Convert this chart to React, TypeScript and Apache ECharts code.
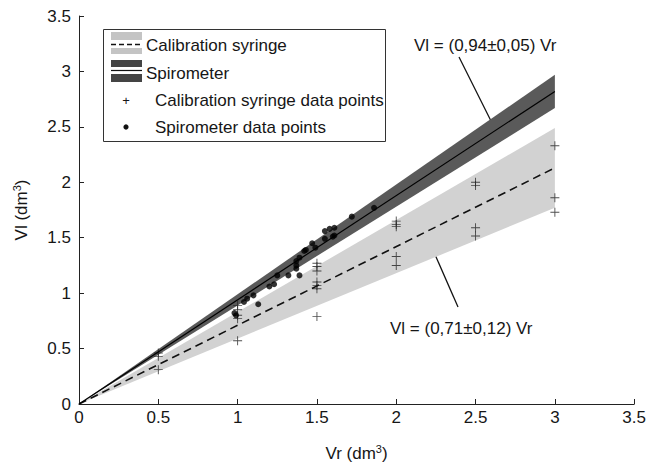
import React, { useEffect, useRef } from "react";
import * as echarts from "echarts";

// Fitted lines / bands (endpoints)
const bandX = [0, 3];
const calLower = [0, 1.77];
const calUpper = [0, 2.49];
const calFit = [0, 2.13];
const spiroLower = [0, 2.67];
const spiroUpper = [0, 2.97];
const spiroFit = [0, 2.82];

// Calibration syringe data points
const calX = [0.5, 0.5, 0.5, 1, 1, 1, 1, 1, 1.5, 1.5, 1.5, 1.5, 1.5, 1.5, 1.5, 2, 2, 2, 2, 2, 2.5, 2.5, 2.5, 2.5, 3, 3, 3];
const calY = [0.31, 0.43, 0.46, 0.57, 0.77, 0.8, 0.85, 0.89, 0.79, 1.04, 1.07, 1.1, 1.2, 1.24, 1.27, 1.25, 1.33, 1.6, 1.62, 1.65, 1.515, 1.59, 1.97, 2.0, 1.73, 1.86, 2.33];

// Spirometer data points
const spX = [0.98, 0.99, 1.04, 1.06, 1.1, 1.13, 1.2, 1.23, 1.25, 1.32, 1.37, 1.37, 1.37, 1.39, 1.39, 1.42, 1.43, 1.47, 1.49, 1.55, 1.55, 1.58, 1.6, 1.61, 1.61, 1.72, 1.86];
const spY = [0.82, 0.8, 0.92, 0.95, 0.98, 0.9, 1.06, 1.08, 1.16, 1.16, 1.22, 1.25, 1.29, 1.16, 1.32, 1.38, 1.39, 1.45, 1.41, 1.49, 1.56, 1.58, 1.51, 1.52, 1.59, 1.69, 1.77];

const ticks = ["0", "0.5", "1", "1.5", "2", "2.5", "3", "3.5"];
const legendLabels = ["Calibration syringe", "Spirometer", "Calibration syringe data points", "Spirometer data points"];
const annoSpiro = "Vl = (0,94±0,05) Vr";
const annoCal = "Vl = (0,71±0,12) Vr";

const FONT = "Liberation Sans, Arial, sans-serif";
const FS = 17;
const CROSS = "path://M4.5,0H5.5V10H4.5ZM0,4.5H10V5.5H0Z";
const CAL_FILL = "#d2d2d2";
const SPIRO_FILL = "#5a5a5a";
const TXT = "#161616";

function bandSeries(lower: number[], upper: number[], color: string) {
  const data = bandX.map((x, i) => [x, lower[i], upper[i]]);
  return {
    type: "custom",
    silent: true,
    data,
    encode: { x: 0, y: [1, 2] },
    renderItem: (params: any, api: any) => {
      if (params.dataIndex !== 0) return null;
      const pts: number[][] = [];
      for (let i = 0; i < data.length; i++) pts.push(api.coord([data[i][0], data[i][2]]));
      for (let i = data.length - 1; i >= 0; i--) pts.push(api.coord([data[i][0], data[i][1]]));
      return { type: "polygon", shape: { points: pts }, style: { fill: color, stroke: "none" } };
    },
  };
}

export default function App() {
  const ref = useRef<HTMLDivElement>(null);
  useEffect(() => {
    document.body.style.margin = "0";
    const chart = echarts.init(ref.current!, null, { renderer: "svg" });
    const axisCommon = {
      type: "value",
      min: 0,
      max: 3.5,
      interval: 0.5,
      axisLine: { show: true, onZero: false, lineStyle: { color: "#222", width: 1 } },
      axisTick: { show: true, inside: true, length: 5, lineStyle: { color: "#222" } },
      splitLine: { show: false },
      axisLabel: {
        color: TXT,
        fontSize: FS,
        fontFamily: FONT,
        formatter: (v: number) => ticks[Math.round(v / 0.5)] ?? String(v),
      },
      nameLocation: "middle",
      nameTextStyle: {
        color: TXT,
        fontFamily: FONT,
        rich: {
          n: { fontSize: FS, fontFamily: FONT, color: TXT, lineHeight: 20 },
          s: { fontSize: 11, fontFamily: FONT, color: TXT, verticalAlign: "top", lineHeight: 20, padding: [0, 0, 8, 0] },
        },
      },
    };
    const legendG: any[] = [
      { type: "rect", shape: { x: 103.5, y: 29.5, width: 282, height: 112 }, style: { fill: "#fff", stroke: "#333", lineWidth: 1 } },
      { type: "rect", shape: { x: 111, y: 32, width: 31, height: 8 }, style: { fill: "#c4c4c4" } },
      { type: "rect", shape: { x: 111, y: 48, width: 31, height: 6 }, style: { fill: "#c4c4c4" } },
      { type: "line", shape: { x1: 111, y1: 44.5, x2: 143, y2: 44.5 }, style: { stroke: "#111", lineWidth: 1.5, lineDash: [5, 3] } },
      { type: "rect", shape: { x: 111, y: 60, width: 31, height: 7 }, style: { fill: "#444" } },
      { type: "line", shape: { x1: 111, y1: 70.5, x2: 142, y2: 70.5 }, style: { stroke: "#111", lineWidth: 1.2 } },
      { type: "rect", shape: { x: 111, y: 74, width: 31, height: 8 }, style: { fill: "#444" } },
      { type: "text", style: { x: 146, y: 45, text: legendLabels[0], font: `${FS}px ${FONT}`, fill: TXT, verticalAlign: "middle" } },
      { type: "text", style: { x: 146, y: 73, text: legendLabels[1], font: `${FS}px ${FONT}`, fill: TXT, verticalAlign: "middle" } },
      { type: "text", style: { x: 126, y: 100, text: "+", font: `13px ${FONT}`, fill: TXT, align: "center", verticalAlign: "middle" } },
      { type: "circle", shape: { cx: 126, cy: 127, r: 2.6 }, style: { fill: "#111" } },
      { type: "text", style: { x: 155, y: 100, text: legendLabels[2], font: `${FS}px ${FONT}`, fill: TXT, verticalAlign: "middle" } },
      { type: "text", style: { x: 155, y: 127, text: legendLabels[3], font: `${FS}px ${FONT}`, fill: TXT, verticalAlign: "middle" } },
      { type: "line", shape: { x1: 459, y1: 57, x2: 492, y2: 123 }, style: { stroke: "#111", lineWidth: 1.3 } },
      { type: "text", style: { x: 414, y: 45, text: annoSpiro, font: `${FS}px ${FONT}`, fill: TXT, verticalAlign: "middle" } },
      { type: "line", shape: { x1: 433, y1: 250, x2: 458, y2: 307 }, style: { stroke: "#111", lineWidth: 1.3 } },
      { type: "text", style: { x: 390, y: 328, text: annoCal, font: `${FS}px ${FONT}`, fill: TXT, verticalAlign: "middle" } },
    ];
    chart.setOption({
      animation: false,
      backgroundColor: "#fff",
      grid: { left: 79, right: 11, top: 16, bottom: 64, containLabel: false },
      xAxis: { ...axisCommon, name: "{n|Vr (dm}{s|3}{n|)}", nameGap: 39, axisLabel: { ...axisCommon.axisLabel, margin: 5 } },
      yAxis: { ...axisCommon, name: "{n|Vl (dm}{s|3}{n|)}", nameGap: 48, nameRotate: 90 },
      series: [
        bandSeries(calLower, calUpper, CAL_FILL),
        bandSeries(spiroLower, spiroUpper, SPIRO_FILL),
        {
          type: "line",
          data: bandX.map((x, i) => [x, calFit[i]]),
          showSymbol: false,
          lineStyle: { color: "#111", width: 1.6, type: [8, 5] },
          silent: true,
        },
        {
          type: "line",
          data: bandX.map((x, i) => [x, spiroFit[i]]),
          showSymbol: false,
          lineStyle: { color: "#000", width: 1.2 },
          silent: true,
        },
        {
          type: "scatter",
          data: calX.map((x, i) => [x, calY[i]]),
          symbol: CROSS,
          symbolSize: 9,
          itemStyle: { color: "#222" },
        },
        {
          type: "scatter",
          data: spX.map((x, i) => [x, spY[i]]),
          symbol: "circle",
          symbolSize: 6,
          itemStyle: { color: "#000" },
        },
      ],
      graphic: legendG,
    });
    return () => chart.dispose();
  }, []);
  return <div ref={ref} style={{ width: 649, height: 468 }} />;
}
